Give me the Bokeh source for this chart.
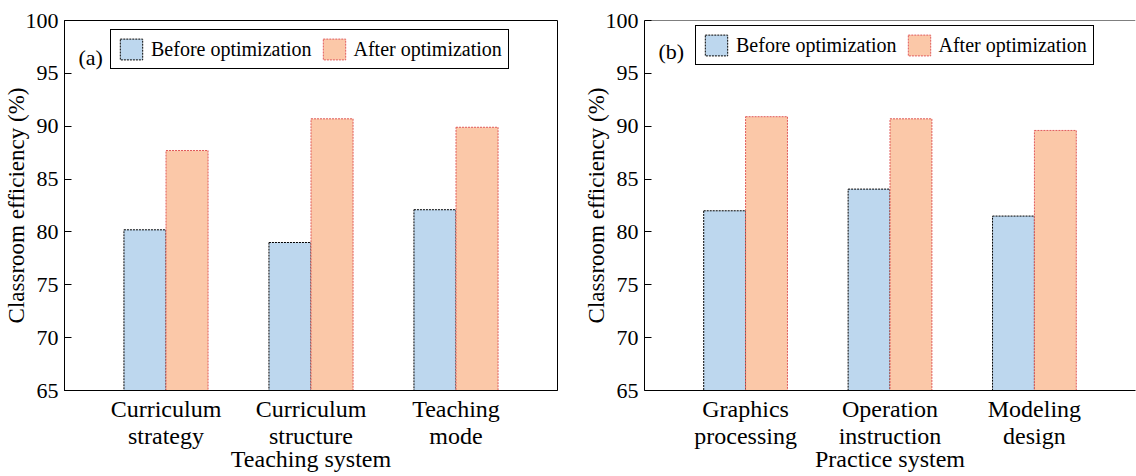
from bokeh.plotting import figure
from bokeh.layouts import row
from bokeh.models import (ColumnDataSource, Range1d, FixedTicker, Legend, LegendItem,
                          Label, Span)
from bokeh.embed import file_html
from bokeh.resources import INLINE

# ---- data ----
cats_a = ["Curriculum\nstrategy", "Curriculum\nstructure", "Teaching\nmode"]
before_a = [80.2, 79.0, 82.1]
after_a = [87.7, 90.7, 89.9]

cats_b = ["Graphics\nprocessing", "Operation\ninstruction", "Modeling\ndesign"]
before_b = [82.0, 84.05, 81.5]
after_b = [90.9, 90.7, 89.6]

yticks = [65, 70, 75, 80, 85, 90, 95, 100]
series_names = ["Before optimization", "After optimization"]
xlabel_a = "Teaching system"
xlabel_b = "Practice system"
ylabel = "Classroom efficiency (%)"

FONT = "Liberation Serif"
BLUE = "#BDD7EE"
PEACH = "#FBC8A8"
RED = "#E05A5A"
BW = 0.29


def make_panel(cats, before, after, xlabel, tag, width, bl, br, leg_x, leg_y, tag_y):
    p = figure(width=width, height=476, output_backend="svg", toolbar_location=None,
               x_range=Range1d(-0.7, 2.7), y_range=Range1d(65, 100),
               min_border_left=bl, min_border_right=br, min_border_top=20,
               min_border_bottom=86)
    idx = list(range(len(cats)))
    src = ColumnDataSource(dict(
        xb=[i - BW / 2 for i in idx], xa=[i + BW / 2 for i in idx],
        before=before, after=after))
    rb = p.vbar(x="xb", top="before", bottom=65, width=BW, source=src,
                fill_color=BLUE, line_color="black", line_dash="2 1", line_width=1)
    ra = p.vbar(x="xa", top="after", bottom=65, width=BW, source=src,
                fill_color=PEACH, line_color=RED, line_dash="2 1", line_width=1)

    p.xgrid.visible = False
    p.ygrid.visible = False
    p.background_fill_color = "white"
    p.border_fill_color = "white"

    for ax in p.left:
        ax.ticker = FixedTicker(ticks=yticks)
        ax.major_label_overrides = {t: str(t) for t in yticks}
        ax.major_tick_in = 7
        ax.major_tick_out = 0
        ax.minor_tick_line_color = None
        ax.major_label_standoff = 6
        ax.major_label_text_font = FONT
        ax.major_label_text_font_size = "22px"
        ax.major_label_text_color = "black"
        ax.axis_line_color = "black"
        ax.major_tick_line_color = "black"
        ax.axis_label = ylabel
        ax.axis_label_standoff = -6
        ax.axis_label_text_font = FONT
        ax.axis_label_text_font_size = "23px"
        ax.axis_label_text_font_style = "normal"
        ax.axis_label_text_color = "black"

    for ax in p.below:
        ax.ticker = FixedTicker(ticks=idx)
        ax.major_label_overrides = {i: c for i, c in zip(idx, cats)}
        ax.major_tick_in = 0
        ax.major_tick_out = 0
        ax.minor_tick_line_color = None
        ax.major_label_standoff = 5
        ax.major_label_text_font = FONT
        ax.major_label_text_font_size = "24px"
        ax.major_label_text_line_height = 1.05
        ax.major_label_text_color = "black"
        ax.axis_line_color = "black"
        ax.axis_label = xlabel
        ax.axis_label_standoff = -6
        ax.axis_label_text_font = FONT
        ax.axis_label_text_font_size = "24px"
        ax.axis_label_text_baseline = "middle"
        ax.axis_label_text_font_style = "normal"
        ax.axis_label_text_color = "black"

    leg = Legend(items=[LegendItem(label=series_names[0], renderers=[rb]),
                        LegendItem(label=series_names[1], renderers=[ra])],
                 orientation="horizontal", location=(leg_x, leg_y),
                 glyph_width=28, glyph_height=26, label_standoff=6, spacing=8,
                 padding=6, margin=0, border_line_color="black", border_line_alpha=1,
                 label_text_font=FONT, label_text_font_size="20px",
                 label_text_color="black", background_fill_alpha=1)
    p.add_layout(leg, "center")

    p.add_layout(Label(x=14, y=tag_y, x_units="screen", y_units="screen", text=tag,
                       text_font=FONT, text_font_size="22px", text_color="black",
                       text_align="left", text_baseline="alphabetic"))
    return p


pa = make_panel(cats_a, before_a, after_a, xlabel_a, "(a)", 580, 63, 23, 46, 321, 333)
pa.outline_line_color = "black"
pa.outline_line_alpha = 1

pb = make_panel(cats_b, before_b, after_b, xlabel_b, "(b)", 556, 63, 1, 51, 325, 339)
pb.outline_line_color = None
pb.add_layout(Span(location=100, dimension="width", line_color="black", line_width=1))

layout = row(pa, pb)
open("out.html", "w").write(file_html(layout, INLINE))
